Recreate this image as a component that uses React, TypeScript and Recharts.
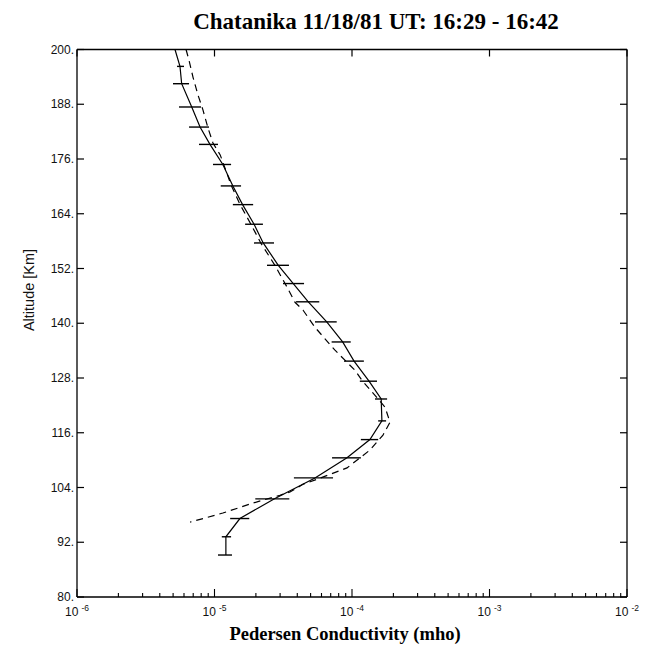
import React from 'react';
import { ComposedChart, Line, XAxis, YAxis, ErrorBar } from 'recharts';

// Solid profile (with horizontal error bars)
const solidAlt = [200, 196.3, 192.5, 187.4, 183.0, 179.2, 174.8, 170.1, 166.0, 161.7, 157.6, 152.7, 148.7, 144.7, 140.3, 135.9, 131.7, 127.3, 123.4, 118.6, 114.5, 110.5, 106.1, 101.5, 97.2, 93.2, 89.2];
const solidVal = [5.16e-6, 5.61e-6, 5.77e-6, 6.83e-6, 7.85e-6, 9.27e-6, 1.15e-5, 1.36e-5, 1.6e-5, 1.94e-5, 2.26e-5, 2.91e-5, 3.74e-5, 4.81e-5, 6.55e-5, 8.55e-5, 1.035e-4, 1.33e-4, 1.63e-4, 1.65e-4, 1.35e-4, 9.2e-5, 5.38e-5, 2.71e-5, 1.53e-5, 1.21e-5, 1.21e-5];
const solidLow = [5.16e-6, 5.34e-6, 4.99e-6, 5.52e-6, 6.53e-6, 7.71e-6, 9.75e-6, 1.11e-5, 1.36e-5, 1.67e-5, 1.94e-5, 2.41e-5, 3.15e-5, 3.92e-5, 5.38e-5, 7.11e-5, 8.75e-5, 1.14e-4, 1.47e-4, 1.55e-4, 1.16e-4, 7.16e-5, 3.78e-5, 1.98e-5, 1.3e-5, 1.13e-5, 1.06e-5];
const solidHigh = [5.16e-6, 6.0e-6, 6.53e-6, 7.98e-6, 9.12e-6, 1.06e-5, 1.32e-5, 1.56e-5, 1.91e-5, 2.25e-5, 2.71e-5, 3.48e-5, 4.48e-5, 5.78e-5, 7.74e-5, 9.79e-5, 1.22e-4, 1.52e-4, 1.8e-4, 1.77e-4, 1.55e-4, 1.16e-4, 7.28e-5, 3.5e-5, 1.79e-5, 1.32e-5, 1.34e-5];

// Dashed model profile
const dashAlt = [200, 197.6, 193.9, 190.0, 186.7, 182.8, 179.5, 176.9, 172.9, 170.3, 166.1, 161.7, 157.5, 152.7, 147.9, 144.6, 142.9, 139.1, 134.1, 129.7, 127.5, 124.2, 121.6, 118.3, 115.5, 112.2, 108.3, 105.8, 104.7, 103.0, 102.3, 100.6, 98.4, 96.4];
const dashVal = [6.21e-6, 6.53e-6, 6.98e-6, 7.59e-6, 8.25e-6, 8.97e-6, 9.75e-6, 1.1e-5, 1.23e-5, 1.32e-5, 1.53e-5, 1.84e-5, 2.18e-5, 2.75e-5, 3.37e-5, 3.85e-5, 4.4e-5, 5.38e-5, 7.52e-5, 1.05e-4, 1.18e-4, 1.47e-4, 1.74e-4, 1.89e-4, 1.68e-4, 1.35e-4, 9.2e-5, 5.56e-5, 4.4e-5, 3.54e-5, 2.99e-5, 1.91e-5, 1.15e-5, 6.64e-6];

// Axis ticks
const yTicks = [80, 92, 104, 116, 128, 140, 152, 164, 176, 188, 200];
const xDecades = [1e-6, 1e-5, 1e-4, 1e-3, 1e-2];
const xMultipliers = [1, 2, 3, 4, 5, 6, 7, 8, 9];

const TITLE = 'Chatanika 11/18/81 UT: 16:29 - 16:42';
const X_LABEL = 'Pedersen Conductivity (mho)';
const Y_LABEL = 'Altitude [Km]';

const solidData = solidAlt.map((alt, i) => ({
  alt,
  v: solidVal[i],
  err: [solidVal[i] - solidLow[i], solidHigh[i] - solidVal[i]],
}));
const dashData = dashAlt.map((alt, i) => ({ alt, v: dashVal[i] }));

const xTicksAll: number[] = [];
xDecades.slice(0, -1).forEach((d) => xMultipliers.forEach((m) => xTicksAll.push(m * d)));
xTicksAll.push(xDecades[xDecades.length - 1]);

const isDecade = (v: number) => {
  const lg = Math.log10(v);
  return Math.abs(lg - Math.round(lg)) < 1e-6;
};

const SANS = '"Liberation Sans", Arial, sans-serif';
const SERIF = '"Liberation Serif", "Times New Roman", serif';

const LeftTick = (props: any) => {
  const { x, y, payload } = props;
  return (
    <g>
      <line x1={x} y1={y} x2={x + 7} y2={y} stroke="#000" strokeWidth={1.2} />
      <text x={x - 3} y={y} dy={4} textAnchor="end" fontSize={12} fontFamily={SANS} fill="#111">
        {`${payload.value}.`}
      </text>
    </g>
  );
};

const RightTick = (props: any) => {
  const { x, y } = props;
  return <line x1={x} y1={y} x2={x - 7} y2={y} stroke="#000" strokeWidth={1.2} />;
};

const BottomTick = (props: any) => {
  const { x, y, payload } = props;
  const v = payload.value as number;
  const major = isDecade(v);
  const exp = Math.round(Math.log10(v));
  return (
    <g>
      <line x1={x} y1={y} x2={x} y2={y - (major ? 8 : 4)} stroke="#000" strokeWidth={1.1} />
      {major && (
        <text x={x} y={y + 19} textAnchor="middle" fontSize={12} fontFamily={SANS} fill="#111">
          10
          <tspan dx={3} dy={-5} fontSize={8.5}>{`-${-exp}`}</tspan>
        </text>
      )}
    </g>
  );
};

const TopTick = (props: any) => {
  const { x, y, payload } = props;
  if (!isDecade(payload.value)) return <g />;
  return <line x1={x} y1={y} x2={x} y2={y + 7} stroke="#000" strokeWidth={1.2} />;
};

export default function App() {
  return (
    <div style={{ position: 'absolute', left: 0, top: 0, width: 655, height: 654, background: '#fff' }}>
      <ComposedChart
        width={655}
        height={654}
        layout="vertical"
        margin={{ top: 41.5, right: 20, bottom: 17, left: 17 }}
      >
        <XAxis
          xAxisId={0}
          type="number"
          scale="log"
          domain={[1e-6, 1e-2]}
          allowDataOverflow
          ticks={xTicksAll}
          interval={0}
          orientation="bottom"
          height={40}
          tickSize={0}
          tickMargin={0}
          tickLine={false}
          tick={<BottomTick />}
          axisLine={{ stroke: '#000', strokeWidth: 1.3 }}
        />
        <XAxis
          xAxisId="top"
          type="number"
          scale="log"
          domain={[1e-6, 1e-2]}
          allowDataOverflow
          ticks={xTicksAll}
          interval={0}
          orientation="top"
          height={8}
          tickSize={0}
          tickMargin={0}
          tickLine={false}
          tick={<TopTick />}
          axisLine={{ stroke: '#000', strokeWidth: 1.3 }}
        />
        <YAxis
          yAxisId={0}
          type="number"
          dataKey="alt"
          domain={[80, 200]}
          reversed
          allowDataOverflow
          ticks={yTicks}
          interval={0}
          orientation="left"
          width={60}
          tickSize={0}
          tickMargin={0}
          tickLine={false}
          tick={<LeftTick />}
          axisLine={{ stroke: '#000', strokeWidth: 1.3 }}
        />
        <YAxis
          yAxisId="r"
          type="number"
          dataKey="alt"
          domain={[80, 200]}
          reversed
          allowDataOverflow
          ticks={yTicks}
          interval={0}
          orientation="right"
          width={8}
          tickSize={0}
          tickMargin={0}
          tickLine={false}
          tick={<RightTick />}
          axisLine={{ stroke: '#000', strokeWidth: 1.3 }}
        />
        <Line
          data={dashData}
          dataKey="v"
          type="linear"
          stroke="#000"
          strokeWidth={1.2}
          strokeDasharray="7 5"
          dot={false}
          activeDot={false}
          isAnimationActive={false}
        />
        <Line
          data={solidData}
          dataKey="v"
          type="linear"
          stroke="#000"
          strokeWidth={1.2}
          dot={false}
          activeDot={false}
          isAnimationActive={false}
        >
          <ErrorBar dataKey="err" direction="x" width={0} stroke="#000" strokeWidth={1.4} isAnimationActive={false} />
        </Line>
      </ComposedChart>
      <svg
        width={655}
        height={654}
        style={{ position: 'absolute', left: 0, top: 0, pointerEvents: 'none' }}
      >
        <text x={376} y={29} textAnchor="middle" fontSize={23} fontWeight="bold" fontFamily={SERIF} fill="#000">
          {TITLE}
        </text>
        <text x={345} y={640} textAnchor="middle" fontSize={18.5} fontWeight="bold" fontFamily={SERIF} fill="#000">
          {X_LABEL}
        </text>
        <text
          x={0}
          y={0}
          transform="translate(34,290) rotate(-90)"
          textAnchor="middle"
          fontSize={14.5}
          fontFamily={SANS}
          fill="#111"
        >
          {Y_LABEL}
        </text>
      </svg>
    </div>
  );
}
